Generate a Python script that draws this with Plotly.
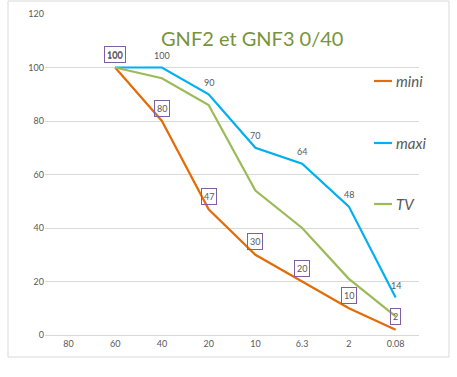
import plotly.graph_objects as go

categories = ["80", "60", "40", "20", "10", "6.3", "2", "0.08"]
mini = [None, 100, 80, 47, 30, 20, 10, 2]
maxi = [None, 100, 100, 90, 70, 64, 48, 14]
tv = [None, 100, 96, 86, 54, 40, 21, 7]
y_ticks = [0, 20, 40, 60, 80, 100, 120]

FONT = "Lato, 'Open Sans', sans-serif"
GRAY = "#595959"

L, T, W, H = 45, 14, 374, 321


def px(x):
    return (x - L) / W


def py(y):
    return (T + H - y) / H


fig = go.Figure()
series = [("mini", mini, "#E36C09"), ("maxi", maxi, "#00B0F0"), ("TV", tv, "#9BBB59")]
for name, vals, col in series:
    fig.add_trace(go.Scatter(
        x=categories, y=vals, mode="lines", name=name,
        line=dict(color=col, width=2.2), connectgaps=False, showlegend=False,
    ))

annotations = []
for i, v in enumerate(maxi):
    if v is not None:
        annotations.append(dict(x=i, y=v, xref="x", yref="y", text=str(v), showarrow=False,
                                yshift=12, font=dict(family=FONT, size=9, color=GRAY)))
for i, v in enumerate(mini):
    if v is not None:
        annotations.append(dict(x=i, y=v, xref="x", yref="y", text=str(v), showarrow=False,
                                yshift=13, font=dict(family=FONT, size=9, color=GRAY),
                                bordercolor="#7F5FA0", borderwidth=1, borderpad=2,
                                bgcolor="rgba(255,255,255,0)"))

annotations.append(dict(x=px(252), y=py(38), xref="paper", yref="paper", yanchor="middle",
                        xanchor="center", text="GNF2 et GNF3 0/40", borderpad=0,
                        showarrow=False, font=dict(family=FONT, size=20, color="#77933C")))

shapes = [dict(type="rect", xref="paper", yref="paper", x0=px(8), x1=px(449), y0=py(357), y1=py(1),
               line=dict(color="#D9D9D9", width=1), layer="below")]

legend_y = [81, 143, 204]
for (name, vals, col), ly in zip(series, legend_y):
    shapes.append(dict(type="line", xref="paper", yref="paper", x0=px(374), x1=px(392),
                       y0=py(ly), y1=py(ly), line=dict(color=col, width=2.2)))
    annotations.append(dict(x=px(394), y=py(ly), xref="paper", yref="paper", xanchor="left",
                            yanchor="middle", text=f"<i>{name}</i>", showarrow=False,
                            font=dict(family=FONT, size=15, color=GRAY)))

fig.update_layout(
    width=457, height=377,
    margin=dict(l=L, r=457 - L - W, t=T, b=377 - T - H, autoexpand=False),
    paper_bgcolor="white", plot_bgcolor="white",
    font=dict(family=FONT, color=GRAY),
    showlegend=False,
    annotations=annotations,
    shapes=shapes,
    xaxis=dict(type="category", categoryorder="array", categoryarray=categories,
               range=[-0.5, 7.5], showgrid=False, showline=True, linecolor="#D9D9D9",
               ticks="", tickfont=dict(family=FONT, size=9, color=GRAY)),
    yaxis=dict(range=[0, 120], tickvals=y_ticks, showgrid=True, gridcolor="#D9D9D9",
               zeroline=True, zerolinecolor="#D9D9D9", showline=False, ticks="",
               tickfont=dict(family=FONT, size=9, color=GRAY)),
)

fig.write_html("out.html", config={"displayModeBar": False},
               post_script="document.body.style.margin='0px';")
